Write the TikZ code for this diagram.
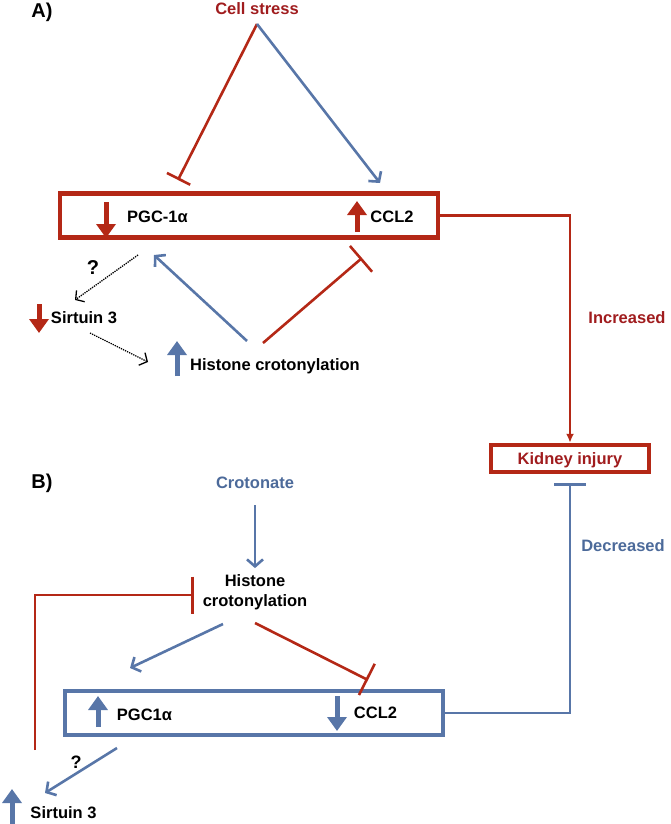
\documentclass[tikz,border=0pt]{standalone}
\usepackage{fontspec}
\setmainfont{Liberation Sans}
\usetikzlibrary{arrows.meta}
\usetikzlibrary{positioning}
\definecolor{injuryred}{RGB}{180,40,22}
\definecolor{textred}{RGB}{160,28,30}
\definecolor{rescueblue}{RGB}{88,118,168}
\definecolor{textblue}{RGB}{76,106,154}
\newcommand{\tikzLevelArrow}[3]{\draw[line width=5pt, #1, -{Triangle[length=14pt,width=19pt]}] #2 -- #3}
\tikzset{
  lbl/.style={font=\fontsize{16.5}{20}\selectfont\bfseries, inner sep=1pt},
  redlbl/.style={lbl, text=textred},
  bluelbl/.style={lbl, text=textblue},
  panellbl/.style={font=\fontsize{20}{22}\selectfont\bfseries, inner sep=0pt},
  activate/.style={line width=2.6pt, rescueblue, -{Straight Barb[length=7pt,width=16pt]}},
  inhibit/.style={line width=2.6pt, injuryred, -{Bar[width=#1]}},
  inhibit/.default=30pt,
  maybe/.style={line width=1.3pt, densely dotted, black, -{Straight Barb[length=6pt,width=14pt]}},
  statebox/.style={draw, line width=4.5pt, minimum width=378pt, minimum height=44pt, inner sep=0pt},
}
\begin{document}
\begin{tikzpicture}[x=1pt,y=-1pt]
                \useasboundingbox (0,0) rectangle (670,824);
                \node[panellbl] (panA) at (42,12) {A)};
                \node[panellbl] (panB) at (42,483) {B)};
                \node[redlbl] (stressLbl) at (257,9) {Cell stress};
                \coordinate (stress) at (257,24);
                \node[statebox, draw=injuryred] (boxA) at (249,215.5) {};
                \node[lbl] (pgcA) at (157.5,217) {PGC-1α};
                \node[lbl] (cclA) at (392,217) {CCL2};
                \node[lbl, font=\fontsize{20}{22}\selectfont\bfseries] (qA) at (93,268) {?};
                \node[lbl] (sirtA) at (84,318) {Sirtuin 3};
                \node[lbl] (histA) at (275,366) {Histone crotonylation};
                \coordinate (pgcAbar) at (178,180);
                \coordinate (cclAtip) at (380,183);
                \draw[inhibit=26pt] (stress) -- (pgcAbar);
                \draw[activate] (stress) -- (cclAtip);
                \tikzLevelArrow{injuryred}{(106,202)}{(106,238)};
                \tikzLevelArrow{injuryred}{(357,232)}{(357,201)};
                \tikzLevelArrow{injuryred}{(39,304)}{(39,333)};
                \tikzLevelArrow{rescueblue}{(177,376)}{(177,341)};
                \coordinate (pgcAout) at (138,255);
                \coordinate (sirtAin) at (75,300);
                \coordinate (sirtAout) at (90,333);
                \coordinate (histAin) at (148,362);
                \draw[maybe] (pgcAout) -- (sirtAin);
                \draw[maybe] (sirtAout) -- (histAin);
                \coordinate (histAleft) at (247,341);
                \coordinate (histAright) at (263,343);
                \coordinate (pgcAin) at (154,255);
                \coordinate (cclAbar) at (362,258);
                \draw[activate] (histAleft) -- (pgcAin);
                \draw[inhibit=34pt] (histAright) -- (cclAbar);
                \node[statebox, draw=injuryred, minimum width=158pt, minimum height=27pt] (kidney) at (570,458.5) {};
                \node[redlbl] (kidneyLbl) at (570,460) {Kidney injury};
                \draw[line width=2.6pt, injuryred, -{Latex[length=9pt,width=8pt]}] (boxA.east) -| (kidney.north);
                \node[redlbl] (incr) at (627,318) {Increased};
                \node[bluelbl] (decr) at (623,546) {Decreased};
                \node[bluelbl] (crot) at (255,483) {Crotonate};
                \node[lbl, align=center] (histB) at (255,592) {Histone\\crotonylation};
                \draw[activate, shorten <=15pt, shorten >=5pt] (crot) -- (histB);
                \node[statebox, draw=rescueblue] (boxB) at (254,713) {};
                \node[lbl] (pgcB) at (144.5,715) {PGC1α};
                \node[lbl] (cclB) at (375.5,713) {CCL2};
                \tikzLevelArrow{rescueblue}{(98,727)}{(98,696)};
                \tikzLevelArrow{rescueblue}{(337,696)}{(337,731)};
                \coordinate (kidneyBar) at (570,483);
                \draw[line width=2.6pt, rescueblue, -{Bar[width=32pt]}] (boxB.east) -| (kidneyBar);
                \coordinate (histBleft) at (223,624);
                \coordinate (histBright) at (255,623);
                \coordinate (pgcBin) at (130,668);
                \coordinate (cclBbar) at (368,680);
                \draw[activate] (histBleft) -- (pgcBin);
                \draw[inhibit=35pt] (histBright) -- (cclBbar);
                \node[lbl, font=\fontsize{18}{20}\selectfont\bfseries] (qB) at (76,762) {?};
                \node[lbl] (sirtB) at (63.5,813) {Sirtuin 3};
                \tikzLevelArrow{rescueblue}{(12,826)}{(12,789)};
                \coordinate (pgcBout) at (117,748);
                \coordinate (sirtBin) at (45,793);
                \draw[activate] (pgcBout) -- (sirtBin);
                \coordinate (sirtBup) at (35,750);
                \coordinate (histBbar) at (194,595);
                \draw[inhibit=37pt] (sirtBup) |- (histBbar);
              \end{tikzpicture}
\end{document}
